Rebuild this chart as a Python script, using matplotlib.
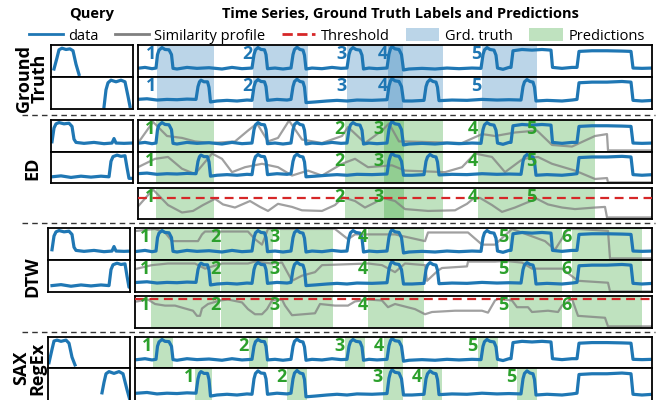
import matplotlib
matplotlib.use('Agg')
import matplotlib.pyplot as plt
from matplotlib.lines import Line2D
from matplotlib.patches import Patch

plt.rcParams['font.family'] = ['Open Sans', 'DejaVu Sans']

# ---- data (time axis in samples, values normalised 0..1) ----
series1_t = [0, 8, 15, 19, 20.5, 22, 25, 28, 32, 34.5, 36, 40, 50, 60, 72, 85, 95, 105, 115,
             117, 118.5, 121, 124, 127.5, 129, 130.5, 138, 146, 154,
             156, 157.5, 160, 163, 166, 167.5, 169, 175, 185, 195, 204, 210,
             212, 213.5, 216, 219, 223, 225, 226.5, 232, 240, 250,
             252, 253.5, 255, 258, 262, 264.5, 266.5, 272, 285, 298, 310, 322, 335, 344,
             346, 347.5, 350, 353, 357, 359, 360.5, 366, 372, 374,
             376, 385, 395, 405, 414, 415.5, 425, 435, 440,
             442, 455, 470, 485, 494, 496, 505, 516]
series1_v = [0.27, 0.30, 0.26, 0.28, 0.70, 0.84, 0.92, 0.86, 0.85, 0.70, 0.27, 0.25, 0.30, 0.27, 0.29, 0.25, 0.30, 0.26, 0.28,
             0.70, 0.85, 0.92, 0.86, 0.85, 0.70, 0.26, 0.28, 0.25, 0.28,
             0.70, 0.86, 0.93, 0.86, 0.84, 0.68, 0.25, 0.28, 0.26, 0.30, 0.27, 0.28,
             0.70, 0.85, 0.92, 0.86, 0.84, 0.68, 0.25, 0.28, 0.26, 0.28,
             0.72, 0.88, 0.95, 0.88, 0.86, 0.70, 0.22, 0.25, 0.27, 0.25, 0.28, 0.26, 0.28, 0.27,
             0.70, 0.85, 0.92, 0.86, 0.84, 0.68, 0.28, 0.24, 0.30, 0.30,
             0.82, 0.86, 0.84, 0.86, 0.84, 0.30, 0.27, 0.30, 0.30,
             0.80, 0.82, 0.82, 0.81, 0.80, 0.28, 0.27, 0.28]

series2_t = [0, 10, 20, 30, 40, 50, 59,
             61, 62.5, 64, 67, 70.5, 72, 73.5, 80, 90, 100, 110, 115,
             117, 118.5, 121, 124, 127.5, 129, 130.5, 140, 150, 154,
             156, 157.5, 160, 163, 166, 167.5, 169, 178, 190, 200, 210, 220, 235, 250,
             252, 253.5, 255, 258, 262, 264.5, 266.5, 275, 287,
             289, 290.5, 293, 296, 299, 300.5, 302, 315, 330, 345, 360, 372, 384,
             386, 387.5, 390, 393, 396, 397.5, 399, 410, 425, 435, 440,
             442, 455, 470, 485, 494, 496, 505, 516]
series2_v = [0.30, 0.32, 0.28, 0.30, 0.29, 0.31, 0.30,
             0.70, 0.85, 0.90, 0.85, 0.85, 0.68, 0.22, 0.25, 0.27, 0.25, 0.28, 0.27,
             0.70, 0.85, 0.92, 0.86, 0.85, 0.70, 0.27, 0.30, 0.28, 0.30,
             0.70, 0.86, 0.93, 0.86, 0.84, 0.68, 0.20, 0.22, 0.25, 0.27, 0.25, 0.28, 0.27, 0.29,
             0.72, 0.88, 0.95, 0.88, 0.86, 0.70, 0.25, 0.25, 0.27,
             0.70, 0.84, 0.92, 0.86, 0.84, 0.68, 0.26, 0.28, 0.27, 0.30, 0.28, 0.29, 0.28,
             0.70, 0.85, 0.92, 0.86, 0.84, 0.68, 0.25, 0.27, 0.25, 0.28, 0.30,
             0.82, 0.84, 0.84, 0.86, 0.84, 0.27, 0.25, 0.27]

# queries (x in query-panel samples)
q1_short_x = [5, 8, 10, 13, 17, 21, 24, 27, 30]
q1_short_y = [0.25, 0.60, 0.85, 0.90, 0.86, 0.88, 0.82, 0.40, 0.08]
q2_short_x = [55, 57, 59, 62, 67, 72, 76, 79, 81]
q2_short_y = [0.06, 0.60, 0.82, 0.90, 0.85, 0.90, 0.85, 0.40, 0.08]
q1_full_x = [3, 5, 7, 10, 15, 20, 23, 25, 27, 35, 45, 55, 63, 65, 67, 75, 83]
q1_full_y = [0.32, 0.75, 0.88, 0.92, 0.88, 0.90, 0.80, 0.40, 0.30, 0.27, 0.30, 0.26, 0.28, 0.42, 0.28, 0.27, 0.28]
q2_full_x = [3, 12, 22, 32, 42, 52, 60, 62, 64, 68, 72, 76, 78, 80, 83]
q2_full_y = [0.20, 0.23, 0.18, 0.22, 0.19, 0.22, 0.20, 0.70, 0.85, 0.90, 0.86, 0.88, 0.50, 0.15, 0.15]
q1_sax_x = [0, 3, 5, 8, 12, 17, 20, 23, 26]
q1_sax_y = [0.17, 0.60, 0.87, 0.90, 0.86, 0.90, 0.80, 0.35, 0.10]
q2_sax_x = [53, 55, 57, 60, 65, 70, 74, 78, 81]
q2_sax_y = [0.31, 0.60, 0.84, 0.90, 0.85, 0.90, 0.84, 0.40, 0.10]

# ground truth and predicted intervals
gt_spans = [(20, 77), (116, 171), (210, 266), (251, 306), (345, 400)]
ed_spans = [(19, 77), (208, 267), (247, 306), (341, 400), (400, 458)]
dtw_spans = [(14, 83), (84, 136), (143, 196), (231, 287), (372, 425), (435, 505)]
sax_spans_1 = [(16, 36), (112, 131), (208, 228), (247, 266), (341, 361)]
sax_spans_2 = [(58, 75), (150, 170), (246, 266), (285, 305), (380, 400)]

ed_threshold = 0.68
dtw_threshold = 0.91

ed_prof_t = [0, 16, 31, 45, 56, 66, 78, 86, 98, 113, 123, 131, 141, 155, 165, 185, 198, 206, 218, 228,
             238, 246, 258, 268, 291, 318, 330, 336, 343, 355, 365, 378, 390, 400, 411, 425, 438, 458, 468, 470, 516]
ed_prof_v = [0.37, 0.95, 0.45, 0.21, 0.26, 0.45, 0.65, 0.47, 0.37, 0.58, 0.39, 0.26, 0.49, 0.39, 0.28, 0.26, 0.45, 0.70, 0.58, 0.37,
             0.53, 0.68, 0.58, 0.32, 0.26, 0.28, 0.49, 0.65, 0.68, 0.45, 0.23, 0.37, 0.53, 0.65, 0.47, 0.37, 0.32, 0.37, 0.39, 0.05, 0.05]
ed_row1_t = [1, 16, 30, 45, 58, 75, 98, 111, 120, 131, 141, 152, 165, 185, 205, 211, 228, 245, 252,
             262, 268, 325, 345, 358, 378, 400, 415, 435, 458, 470, 471, 516]
ed_row1_v = [0.28, 0.94, 0.50, 0.44, 0.33, 0.28, 0.33, 0.67, 0.89, 0.33, 0.44, 0.98, 0.39, 0.28, 0.50, 0.78, 0.28, 0.67, 0.89,
             0.33, 0.33, 0.28, 0.56, 0.50, 0.61, 0.67, 0.22, 0.17, 0.50, 0.56, 0.05, 0.05]
ed_row2_t = [1, 18, 31, 45, 58, 75, 85, 95, 108, 125, 141, 155, 171, 185, 205, 218, 231, 255,
             268, 308, 325, 338, 355, 368, 386, 401, 415, 438, 458, 470, 471, 516]
ed_row2_v = [0.51, 0.78, 0.84, 0.46, 0.29, 0.95, 0.78, 0.35, 0.51, 0.62, 0.51, 0.24, 0.40, 0.24, 0.62, 0.78, 0.51, 0.57,
             0.40, 0.35, 0.51, 0.95, 0.84, 0.35, 0.78, 0.84, 0.62, 0.40, 0.13, 0.16, 0.02, 0.02]

dtw_prof_t = [0, 5, 11, 18, 28, 38, 48, 56, 60, 63, 65, 71, 83, 91, 105, 111, 118, 125, 130, 135, 145, 148, 155,
              178, 183, 198, 211, 218, 231, 245, 251, 258, 278, 288, 295, 318, 345, 351, 358, 361, 375, 380, 391,
              395, 411, 421, 425, 435, 441, 468, 471, 516]
dtw_prof_v = [0.83, 0.86, 0.89, 0.75, 0.70, 0.70, 0.61, 0.54, 0.38, 0.38, 0.61, 0.75, 0.86, 0.89, 0.80, 0.59, 0.43, 0.43, 0.59, 0.86, 0.89, 0.70, 0.40,
              0.46, 0.75, 0.70, 0.70, 0.83, 0.89, 0.86, 0.65, 0.75, 0.59, 0.43, 0.50, 0.54, 0.54, 0.48, 0.86, 0.91, 0.86, 0.65, 0.65,
              0.50, 0.54, 0.50, 0.70, 0.91, 0.38, 0.32, 0.05, 0.05]
dtw_row1_t = [0, 18, 28, 35, 61, 65, 68, 111, 118, 125, 131, 198, 211, 218, 258, 288, 291, 331, 345, 358,
              375, 408, 418, 431, 441, 471, 473, 516]
dtw_row1_v = [0.91, 0.97, 0.86, 0.59, 0.59, 0.80, 0.89, 0.89, 0.65, 0.48, 0.97, 0.97, 0.65, 0.80, 0.80, 0.59, 0.86, 0.86, 0.48, 0.48,
              0.97, 0.59, 0.32, 0.97, 0.97, 0.91, 0.05, 0.05]
dtw_row2_t = [0, 15, 31, 58, 68, 85, 111, 118, 135, 145, 155, 165, 178, 185, 231, 245, 258, 268, 288, 290,
              301, 305, 330, 331, 358, 368, 385, 395, 425, 441, 471, 473, 516]
dtw_row2_v = [0.73, 0.84, 0.89, 0.89, 0.73, 0.89, 0.89, 0.95, 0.89, 0.92, 0.35, 0.51, 0.62, 0.84, 0.89, 0.84, 0.62, 0.89, 0.84, 0.35,
              0.67, 0.75, 0.80, 0.95, 0.95, 0.97, 0.92, 0.73, 0.73, 0.35, 0.29, 0.02, 0.02]

BLUE = '#1f77b4'
GREEN = '#2ca02c'
RED = '#d62728'
GREY = '#808080'

W, H = 663, 400
fig = plt.figure(figsize=(W / 100, H / 100), dpi=100)


def add_ax(x0, y0, x1, y1):
    # pixel box -> figure axes
    ax = fig.add_axes([x0 / W, 1 - y1 / H, (x1 - x0) / W, (y1 - y0) / H])
    ax.set_xticks([])
    ax.set_yticks([])
    for sp in ax.spines.values():
        sp.set_linewidth(1.3)
    return ax


def main_panel(y0, y1, left, spans, color, series=None, overlay=None, threshold=None):
    ax = add_ax(left, y0, 652, y1)
    ax.set_xlim(left - 137, 515)
    ax.set_ylim(0, 1)
    for i, (s, e) in enumerate(spans):
        ax.axvspan(s, e, color=color, alpha=0.3, lw=0, zorder=0)
        ax.text(s - 0.5, 0.99, str(i + 1), ha='right', va='top',
                fontsize=13, fontweight='bold', color=color, zorder=5)
    if overlay is not None:
        ax.plot(overlay[0], overlay[1], color=GREY, lw=1.6, alpha=0.75, zorder=1)
    if series is not None:
        ax.plot(series[0], series[1], color=BLUE, lw=2.3, zorder=2)
    if threshold is not None:
        ax.axhline(threshold, color=RED, lw=1.6, ls=(0, (4, 2.5)), zorder=3)
    return ax


def query_panel(y0, y1, left, right, qx, qy):
    ax = add_ax(left, y0, right, y1)
    ax.set_xlim(left - 49, right - 49)
    ax.set_ylim(0, 1)
    ax.plot(qx, qy, color=BLUE, lw=2.3)
    return ax


s1 = (series1_t, series1_v)
s2 = (series2_t, series2_v)

# Ground truth
query_panel(45, 77, 51, 133, q1_short_x, q1_short_y)
query_panel(77, 109, 51, 133, q2_short_x, q2_short_y)
main_panel(45, 77, 137.5, gt_spans, BLUE, series=s1)
main_panel(77, 109, 137.5, gt_spans, BLUE, series=s2)

# ED
query_panel(120, 152, 51, 133, q1_full_x, q1_full_y)
query_panel(152, 183, 51, 133, q2_full_x, q2_full_y)
main_panel(120, 152, 137.5, ed_spans, GREEN, series=s1, overlay=(ed_row1_t, ed_row1_v))
main_panel(152, 183, 137.5, ed_spans, GREEN, series=s2, overlay=(ed_row2_t, ed_row2_v))
main_panel(188, 219, 137.5, ed_spans, GREEN, overlay=(ed_prof_t, ed_prof_v), threshold=ed_threshold)

# DTW
query_panel(228, 260, 48, 130, q1_full_x, q1_full_y)
query_panel(260, 292, 48, 130, q2_full_x, q2_full_y)
main_panel(228, 260, 134.5, dtw_spans, GREEN, series=s1, overlay=(dtw_row1_t, dtw_row1_v))
main_panel(260, 292, 134.5, dtw_spans, GREEN, series=s2, overlay=(dtw_row2_t, dtw_row2_v))
main_panel(296, 328, 134.5, dtw_spans, GREEN, overlay=(dtw_prof_t, dtw_prof_v), threshold=dtw_threshold)

# SAX RegEx
query_panel(337, 368, 48, 130, q1_sax_x, q1_sax_y)
query_panel(368, 404, 48, 130, q2_sax_x, q2_sax_y)
main_panel(337, 368, 134.5, sax_spans_1, GREEN, series=s1)
main_panel(368, 404, 134.5, sax_spans_2, GREEN, series=s2)

# row labels
for label, x, y in [('Ground\nTruth', 32, 78), ('ED', 32, 168), ('DTW', 32, 277), ('SAX\nRegEx', 29, 368)]:
    fig.text(x / W, 1 - y / H, label, rotation=90, ha='center', va='center',
             fontsize=13, fontweight='bold', linespacing=0.85)

# dashed separators
for y in [115, 223, 332]:
    fig.add_artist(Line2D([22 / W, 655 / W], [1 - y / H, 1 - y / H], color='#333333',
                          lw=1.0, ls=(0, (4, 3)), transform=fig.transFigure))

# titles
fig.text(92 / W, 1 - 14 / H, 'Query', ha='center', va='center', fontsize=10.5, fontweight='bold')
fig.text(400 / W, 1 - 14 / H, 'Time Series, Ground Truth Labels and Predictions',
         ha='center', va='center', fontsize=10.5, fontweight='bold')

handles = [Line2D([], [], color=BLUE, lw=2, label='data'),
           Line2D([], [], color=GREY, lw=2, label='Similarity profile'),
           Line2D([], [], color=RED, lw=2, ls='--', label='Threshold'),
           Patch(facecolor=BLUE, alpha=0.3, label='Grd. truth'),
           Patch(facecolor=GREEN, alpha=0.3, label='Predictions')]
fig.legend(handles=handles, loc='center', bbox_to_anchor=(337 / W, 1 - 36 / H), ncol=5,
           frameon=False, fontsize=10.5, handlelength=2.3, handletextpad=0.4,
           columnspacing=1.1, borderpad=0, handleheight=1.0)

fig.savefig('out.png', dpi=100)
